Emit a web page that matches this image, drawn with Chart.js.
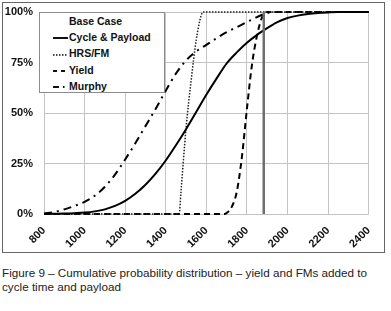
<!DOCTYPE html>
<html>
<head>
<meta charset="utf-8">
<script src="https://cdn.jsdelivr.net/npm/chart.js@4"></script>
<style>
  body { margin: 0; background: #fff; font-family: "Liberation Sans", Arial, sans-serif; }
  #frame { position: absolute; left: 2px; top: 2px; width: 383px; height: 251px; border: 1px solid #666; box-sizing: border-box; }
  #chart { display: block; }
  #legend { position: absolute; left: 36px; top: 9px; width: 126px; height: 81px; box-sizing: border-box;
    border: 1px solid #8c8c8c; background: #fff; font: bold 10.5px "Liberation Sans", Arial, sans-serif; color: #111; }
  #legend .row { height: 16.2px; line-height: 16.2px; white-space: nowrap; }
  #legend .title { padding-left: 29px; }
  #legend svg { display: inline-block; vertical-align: middle; margin-left: 13px; margin-right: 1px; }
  #caption { position: absolute; left: 2px; top: 266px; font-size: 11.7px; line-height: 14px; color: #222; white-space: nowrap; }
</style>
</head>
<body>
<div id="frame">
  <canvas id="chart" width="381" height="249"></canvas>
  <div id="legend"></div>
</div>
<div id="caption">Figure 9 – Cumulative probability distribution – yield and FMs added to<br>cycle time and payload</div>
<script>
// x values (cycle time) every 50, shared by the two smooth curves
var steps = [800, 850, 900, 950, 1000, 1050, 1100, 1150, 1200, 1250, 1300, 1350, 1400, 1450, 1500, 1550, 1600,
  1650, 1700, 1750, 1800, 1850, 1900, 1950, 2000, 2050, 2100, 2150, 2200, 2250, 2300, 2350, 2400];
var cyclePayload = [0, 0.1, 0.2, 0.4, 0.7, 1.3, 2.3, 4, 6.5, 10, 14.5, 20, 26.5, 34, 42, 50.5, 59,
  67, 74.5, 80, 84.8, 88.7, 92, 95, 97, 98.2, 99, 99.5, 99.8, 100, 100, 100, 100];
var murphy = [0.3, 1, 2.3, 4, 6, 9, 13.5, 19.5, 27, 35, 43.5, 52, 61, 69.5, 76, 80.5, 83.7,
  87, 90, 92.5, 95, 97.5, 99.5, 100, 100, 100, 100, 100, 100, 100, 100, 100, 100];

var hrsX = [800, 1466, 1475, 1500, 1525, 1550, 1575, 1585, 2400];
var hrsY = [0, 0, 11, 42.5, 66, 86, 98.5, 100, 100];

var yieldX = [800, 1690, 1700, 1725, 1750, 1775, 1800, 1825, 1850, 1875, 1890, 2400];
var yieldY = [0, 0, 0.5, 3.5, 11, 28, 52, 74, 88.5, 97.5, 100, 100];

var refLineX = 1883;
var yTicks = [0, 25, 50, 75, 100];

function toPoints(xs, ys) {
  var pts = [];
  for (var i = 0; i < xs.length; i++) {
    pts.push({ x: xs[i], y: ys[i] });
  }
  return pts;
}

var legendItems = [
  { label: 'Cycle & Payload', dash: '' },
  { label: 'HRS/FM', dash: '1.5,1.5', width: 1.5 },
  { label: 'Yield', dash: '4,4' },
  { label: 'Murphy', dash: '6,4,1.5,4' }
];

var legendEl = document.getElementById('legend');
var html = '<div class="row title">Base Case</div>';
legendItems.forEach(function (item) {
  html += '<div class="row"><svg width="15" height="6"><line x1="0" y1="3" x2="15" y2="3" stroke="#111" stroke-width="' +
    (item.width || 2) + '" stroke-dasharray="' + item.dash + '"/></svg>' + item.label.replace('&', '&amp;') + '</div>';
});
legendEl.innerHTML = html;

var tickFont = { family: '"Liberation Sans", Arial, sans-serif', size: 11, weight: 'bold' };

new Chart(document.getElementById('chart'), {
  type: 'line',
  data: {
    datasets: [
      {
        label: 'ref',
        data: [{ x: refLineX, y: 0 }, { x: refLineX, y: 100 }],
        borderColor: '#6e6e6e',
        borderWidth: 2.5,
        pointRadius: 0
      },
      {
        label: 'Cycle & Payload',
        data: toPoints(steps, cyclePayload),
        borderColor: '#000',
        borderWidth: 2,
        pointRadius: 0,
        cubicInterpolationMode: 'monotone'
      },
      {
        label: 'HRS/FM',
        data: toPoints(hrsX, hrsY),
        borderColor: '#222',
        borderWidth: 1.5,
        borderDash: [1.5, 1.5],
        pointRadius: 0,
        cubicInterpolationMode: 'monotone'
      },
      {
        label: 'Yield',
        data: toPoints(yieldX, yieldY),
        borderColor: '#000',
        borderWidth: 2,
        borderDash: [6, 4],
        pointRadius: 0,
        cubicInterpolationMode: 'monotone'
      },
      {
        label: 'Murphy',
        data: toPoints(steps, murphy),
        borderColor: '#000',
        borderWidth: 2,
        borderDash: [8, 5, 2, 5],
        pointRadius: 0,
        cubicInterpolationMode: 'monotone'
      }
    ]
  },
  options: {
    responsive: false,
    animation: false,
    clip: false,
    layout: { padding: { top: 9, right: 10, left: 0, bottom: 0 } },
    plugins: { legend: { display: false }, tooltip: { enabled: false } },
    scales: {
      x: {
        type: 'linear',
        min: 800,
        max: 2400,
        afterFit: function (scale) { scale.height = 38; },
        // hidden tick marks move the labels down without adding side padding
        grid: { color: '#c4c4c4', drawTicks: true, tickLength: 4, tickColor: 'rgba(0,0,0,0)' },
        border: { color: '#c4c4c4' },
        ticks: {
          stepSize: 200,
          minRotation: 45,
          maxRotation: 45,
          padding: 6,
          color: '#111',
          font: tickFont,
          callback: function (v) { return String(v); }
        }
      },
      y: {
        min: 0,
        max: 100,
        afterFit: function (scale) { scale.width = 41; },
        afterBuildTicks: function (scale) {
          scale.ticks = yTicks.map(function (v) { return { value: v }; });
        },
        // tick marks hidden, only used to push labels off the axis
        grid: { color: '#c4c4c4', drawTicks: true, tickLength: 9, tickColor: 'rgba(0,0,0,0)' },
        border: { color: '#c4c4c4' },
        ticks: {
          padding: 2,
          color: '#111',
          font: tickFont,
          callback: function (v) { return v + '%'; }
        }
      }
    }
  }
});
</script>
</body>
</html>
